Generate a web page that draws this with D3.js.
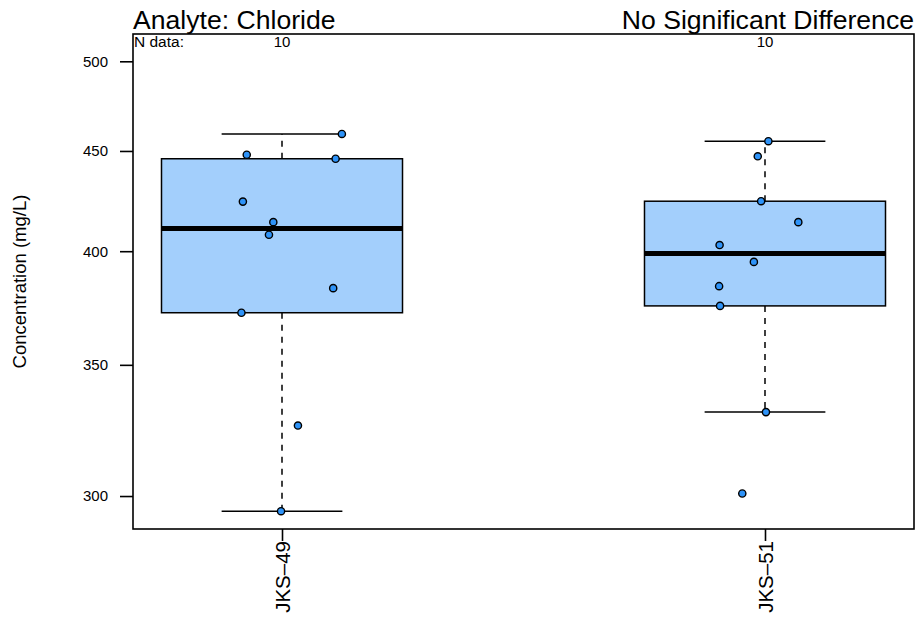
<!DOCTYPE html>
<html>
<head>
<meta charset="utf-8">
<script src="https://cdn.jsdelivr.net/npm/d3@7"></script>
<style>
  html, body { margin: 0; padding: 0; background: #fff; }
  svg { display: block; font-family: "Liberation Sans", Arial, Helvetica, sans-serif; }
</style>
</head>
<body>
<svg id="chart" width="915" height="617"></svg>
<script>
// ---- Data ----
const categories = ["JKS\u201349", "JKS\u201351"];
const valuesJKS49 = [459.1, 448.0, 445.9, 424.0, 413.9, 407.8, 383.0, 372.1, 325.9, 294.7];
const valuesJKS51 = [455.2, 447.2, 424.2, 413.9, 402.9, 395.0, 383.9, 375.1, 331.1, 300.9];
// horizontal jitter of each point, as a fraction of the category spacing
const jitterJKS49 = [0.124, -0.073, 0.111, -0.081, -0.018, -0.027, 0.106, -0.084, 0.033, -0.002];
const jitterJKS51 = [0.007, -0.015, -0.008, 0.069, -0.094, -0.023, -0.095, -0.093, 0.002, -0.047];
const yTicks = [300, 350, 400, 450, 500];
const titleLeft = "Analyte: Chloride";
const titleRight = "No Significant Difference";
const yLabel = "Concentration (mg/L)";
const nLabel = "N data:";

const groups = [
  { name: categories[0], values: valuesJKS49, jitter: jitterJKS49 },
  { name: categories[1], values: valuesJKS51, jitter: jitterJKS51 }
];

// ---- Layout ----
const plot = { left: 133, right: 914, top: 34, bottom: 529 };
const svg = d3.select("#chart");

const x = d3.scalePoint().domain(categories).range([plot.left, plot.right]).padding(0.3085);
const step = x.step();
const y = d3.scaleLog().domain([288.6, 516.3]).range([plot.bottom, plot.top]);

// R-style boxplot stats
function fivenum(arr) {
  const s = arr.slice().sort((a, b) => a - b);
  const n = s.length;
  const n4 = Math.floor((n + 3) / 2) / 2;
  const d = [1, n4, (n + 1) / 2, n + 1 - n4, n];
  return d.map(v => 0.5 * (s[Math.floor(v) - 1] + s[Math.ceil(v) - 1]));
}
function boxStats(arr) {
  const f = fivenum(arr);
  const iqr = f[3] - f[1];
  const lo = f[1] - 1.5 * iqr, hi = f[3] + 1.5 * iqr;
  const inside = arr.filter(v => v >= lo && v <= hi);
  return { q1: f[1], med: f[2], q3: f[3], wlo: d3.min(inside), whi: d3.max(inside) };
}

const boxHalf = 0.2495 * step;
const capHalf = 0.125 * step;

groups.forEach(g => {
  const st = boxStats(g.values);
  const cx = x(g.name);
  const G = svg.append("g");
  // whiskers (dashed)
  G.append("line").attr("x1", cx).attr("x2", cx).attr("y1", y(st.q3)).attr("y2", y(st.whi))
    .attr("stroke", "#000").attr("stroke-width", 1.5).attr("stroke-dasharray", "6,6");
  G.append("line").attr("x1", cx).attr("x2", cx).attr("y1", y(st.q1)).attr("y2", y(st.wlo))
    .attr("stroke", "#000").attr("stroke-width", 1.5).attr("stroke-dasharray", "6,6");
  // caps
  [st.whi, st.wlo].forEach(v => {
    G.append("line").attr("x1", cx - capHalf).attr("x2", cx + capHalf)
      .attr("y1", y(v)).attr("y2", y(v)).attr("stroke", "#000").attr("stroke-width", 1.5);
  });
  // box
  G.append("rect").attr("x", cx - boxHalf).attr("width", 2 * boxHalf)
    .attr("y", y(st.q3)).attr("height", y(st.q1) - y(st.q3))
    .attr("fill", "#a3cffc").attr("stroke", "#000").attr("stroke-width", 1.5);
  // median
  G.append("line").attr("x1", cx - boxHalf).attr("x2", cx + boxHalf)
    .attr("y1", y(st.med)).attr("y2", y(st.med)).attr("stroke", "#000").attr("stroke-width", 5);
  // points
  G.selectAll("circle").data(g.values).join("circle")
    .attr("cx", (d, i) => cx + g.jitter[i] * step)
    .attr("cy", d => y(d))
    .attr("r", 3.6)
    .attr("fill", "#2e93f8").attr("stroke", "#000").attr("stroke-width", 1.4);
  // N data count
  svg.append("text").attr("x", cx).attr("y", 47).attr("text-anchor", "middle")
    .attr("font-size", 15).text(g.values.length);
});

// frame
svg.append("rect").attr("x", plot.left).attr("y", plot.top)
  .attr("width", plot.right - plot.left).attr("height", plot.bottom - plot.top)
  .attr("fill", "none").attr("stroke", "#000").attr("stroke-width", 1.6);

// y axis
const yAxis = d3.axisLeft(y).tickValues(yTicks).tickFormat(d3.format("d")).tickSize(13).tickPadding(12);
const gy = svg.append("g").attr("transform", `translate(${plot.left},0)`).call(yAxis);
gy.select(".domain").remove();
gy.selectAll(".tick line").attr("stroke", "#000").attr("stroke-width", 1.6);
gy.selectAll(".tick text").attr("font-size", 15).attr("font-family", null).attr("fill", "#000");

// x axis
const xAxis = d3.axisBottom(x).tickSize(12).tickFormat("");
const gx = svg.append("g").attr("transform", `translate(0,${plot.bottom})`).call(xAxis);
gx.select(".domain").remove();
gx.selectAll(".tick line").attr("stroke", "#000").attr("stroke-width", 1.6);
gx.selectAll(".tick").append("text")
  .attr("transform", "translate(0,12) rotate(-90)")
  .attr("text-anchor", "end")
  .attr("dy", "0.36em")
  .attr("fill", "#000")
  .attr("font-size", 20.5)
  .attr("font-family", "Liberation Sans, Arial, sans-serif")
  .text(d => d);

// titles
svg.append("text").attr("x", plot.left).attr("y", 29).attr("font-size", 26.6).text(titleLeft);
svg.append("text").attr("x", plot.right).attr("y", 29).attr("text-anchor", "end")
  .attr("font-size", 26.6).text(titleRight);
svg.append("text").attr("x", plot.left + 1).attr("y", 47).attr("font-size", 15.5).text(nLabel);

// y label
svg.append("text").attr("transform", `translate(26,${(plot.top + plot.bottom) / 2}) rotate(-90)`)
  .attr("text-anchor", "middle").attr("font-size", 18.5).text(yLabel);
</script>
</body>
</html>
